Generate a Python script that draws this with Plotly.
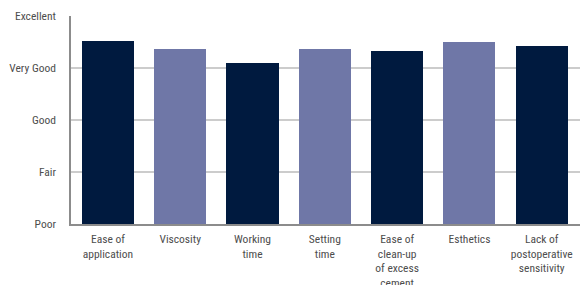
import plotly.graph_objects as go

categories = ["Ease of<br>application", "Viscosity", "Working<br>time", "Setting<br>time",
              "Ease of<br>clean-up<br>of excess<br>cement", "Esthetics",
              "Lack of<br>postoperative<br>sensitivity"]
values = [4.52, 4.37, 4.10, 4.37, 4.33, 4.50, 4.42]
bar_colors = ["#001a3f", "#6f77a7", "#001a3f", "#6f77a7", "#001a3f", "#6f77a7", "#001a3f"]
y_tick_vals = [1, 2, 3, 4, 5]
y_tick_text = ["Poor", "Fair", "Good", "Very Good", "Excellent"]

font_family = "Liberation Sans Narrow, Roboto Condensed, DejaVu Sans Condensed, Arial Narrow, sans-serif"
text_color = "#4d4d4d"

x_idx = list(range(len(categories)))
fig = go.Figure(go.Bar(
    x=x_idx, y=[v - 1 for v in values], base=1, width=0.72,
    marker=dict(color=bar_colors, line=dict(width=0)),
    hoverinfo="skip",
))

# page body has an 8px margin, so the figure is offset by 8px
fig.update_layout(
    width=580, height=277,
    margin=dict(l=63, r=0, t=8, b=61, autoexpand=False),
    paper_bgcolor="white", plot_bgcolor="white",
    showlegend=False,
    font=dict(family=font_family, size=12, color=text_color),
    bargap=0,
)
fig.update_xaxes(
    range=[-0.51, 6.64], automargin=False,
    tickmode="array", tickvals=x_idx, ticktext=categories,
    showgrid=False, zeroline=False,
    showline=True, linecolor="#8c8c8c", linewidth=1.5,
    ticks="", ticklabelstandoff=3,
    tickfont=dict(family=font_family, size=11.5, color=text_color),
)
fig.update_yaxes(
    range=[1, 5], automargin=False,
    tickmode="array", tickvals=y_tick_vals, ticktext=y_tick_text,
    showgrid=True, gridcolor="#cccccc", gridwidth=1.5,
    zeroline=False,
    showline=True, linecolor="#8c8c8c", linewidth=1.5,
    ticks="", ticklabelstandoff=11,
    tickfont=dict(family=font_family, size=11.5, color=text_color),
)
fig.write_html("out.html")
